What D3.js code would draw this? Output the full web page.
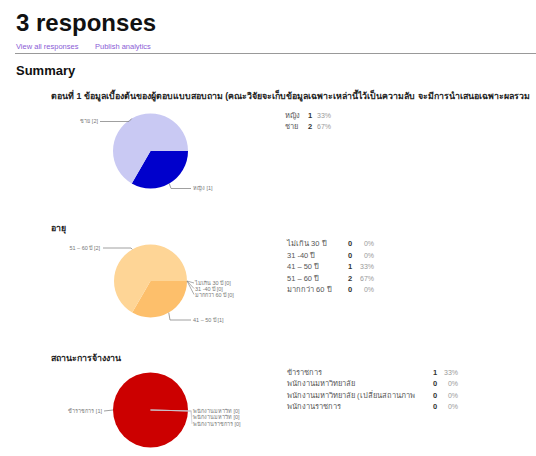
<!DOCTYPE html>
<html><head><meta charset="utf-8">
<script src="https://cdn.jsdelivr.net/npm/d3@7/dist/d3.min.js"></script>
<style>
body{margin:0;background:#fff;}
svg{font-family:"Liberation Sans",Arial,"Noto Sans",sans-serif;}
</style></head>
<body><svg id="c" width="536" height="456"></svg>
<script>
// ---------- data ----------
const pageTitle = "3 responses";
const linkTexts = ["View all responses", "Publish analytics"];
const summaryTitle = "Summary";

const q1Title = "ตอนที่ 1 ข้อมูลเบื้องต้นของผู้ตอบแบบสอบถาม (คณะวิจัยจะเก็บข้อมูลเฉพาะเหล่านี้ไว้เป็นความลับ จะมีการนำเสนอเฉพาะผลรวม";
const genderCats = ["หญิง", "ชาย"];
const genderCounts = [1, 2];
const genderPct = ["33%", "67%"];
const genderPieLabels = ["หญิง [1]", "ชาย [2]"];

const q2Title = "อายุ";
const ageCats = ["ไม่เกิน 30 ปี", "31 -40 ปี", "41 – 50 ปี", "51 – 60 ปี", "มากกว่า 60 ปี"];
const ageCounts = [0, 0, 1, 2, 0];
const agePct = ["0%", "0%", "33%", "67%", "0%"];
const agePieLabels = ["ไม่เกิน 30 ปี [0]", "31 -40 ปี [0]", "41 – 50 ปี [1]", "51 – 60 ปี [2]", "มากกว่า 60 ปี [0]"];

const q3Title = "สถานะการจ้างงาน";
const empCats = ["ข้าราชการ", "พนักงานมหาวิทยาลัย", "พนักงานมหาวิทยาลัย (เปลี่ยนสถานภาพ", "พนักงานราชการ"];
const empCounts = [1, 0, 0, 0];
const empPct = ["33%", "0%", "0%", "0%"];
const empPieLabels = ["ข้าราชการ [1]", "พนักงานมหาวิท [0]", "พนักงานมหาวิท [0]", "พนักงานราชการ [0]"];

// ---------- layout / style ----------
const svg = d3.select("#c");
svg.append("text").attr("x", 16).attr("y", 31).attr("font-size", 24).attr("font-weight", "bold").attr("fill", "#111").text(pageTitle);
svg.append("text").attr("x", 16).attr("y", 49).attr("font-size", 7.5).attr("fill", "#8a5cd6").text(linkTexts[0]);
svg.append("text").attr("x", 95).attr("y", 49).attr("font-size", 7.5).attr("fill", "#8a5cd6").text(linkTexts[1]);
svg.append("line").attr("x1", 15).attr("x2", 536).attr("y1", 53.5).attr("y2", 53.5).attr("stroke", "#999").attr("stroke-width", 1);
svg.append("text").attr("x", 16).attr("y", 75).attr("font-size", 13).attr("font-weight", "bold").attr("fill", "#111").text(summaryTitle);

const charts = [
  {title: q1Title, titleY: 99, cats: genderCats, counts: genderCounts, pct: genderPct, pieLabels: genderPieLabels,
   colors: ["#0000cc", "#c9c9f3"], cx: 150.5, cy: 151, r: 37.5,
   labels: [ {x: 193, y: 190, anchor: "start", elbow: [171, 188.5], lineTo: 191},
             {x: 98, y: 123, anchor: "end", elbow: [129, 121.5], lineTo: 100} ],
   table: {x: 285, countX: 308, pctX: 331, y0: 118, dy: 11}},
  {title: q2Title, titleY: 231, cats: ageCats, counts: ageCounts, pct: agePct, pieLabels: agePieLabels,
   colors: ["#ffd699", "#ffd699", "#fdbf6b", "#fed596", "#ffd699"], cx: 150.5, cy: 281, r: 36.5,
   zeroFrom: 1, zeroLabels: {x: 195, ys: [285, 290.5, null, null, 296.5], lineTo: 194},
   labels: [ null, null, {x: 193, y: 322, anchor: "start", elbow: [170, 320], lineTo: 191},
             {x: 100, y: 249.5, anchor: "end", elbow: [131, 248], lineTo: 103}, null ],
   table: {x: 287, countX: 348, pctX: 374, y0: 246, dy: 11.6}},
  {title: q3Title, titleY: 361, cats: empCats, counts: empCounts, pct: empPct, pieLabels: empPieLabels,
   colors: ["#cc0000", "#cc0000", "#cc0000", "#cc0000"], cx: 150.5, cy: 410, r: 37.5,
   zeroFrom: 0, zeroLabels: {x: 193, ys: [null, 413, 419, 426], lineTo: 191, hub: [191, 411]},
   labels: [ {x: 102, y: 413, anchor: "end", elbow: [110, 411], lineTo: 104}, null, null, null ],
   table: {x: 287, countX: 433, pctX: 458, y0: 375, dy: 11.3}}
];

charts.forEach(ch => {
  svg.append("text").attr("x", 51).attr("y", ch.titleY).attr("font-size", 8.8).attr("font-weight", "bold")
    .attr("fill", "#222").text(ch.title);

  const pie = d3.pie().sort(null).value(d => d).startAngle(Math.PI / 2).endAngle(Math.PI / 2 + 2 * Math.PI);
  const arcs = pie(ch.counts);
  const arc = d3.arc().innerRadius(0).outerRadius(ch.r);
  const g = svg.append("g").attr("transform", `translate(${ch.cx},${ch.cy})`);
  g.selectAll("path").data(arcs.filter(a => a.value > 0)).join("path")
    .attr("d", arc).attr("fill", a => ch.colors[a.index]).attr("stroke", "none");

  const edge = d3.arc().innerRadius(ch.r).outerRadius(ch.r);
  arcs.forEach((a, i) => {
    if (a.value > 0 && ch.labels[i]) {
      const L = ch.labels[i];
      const [ex, ey] = edge.centroid(a);
      const pts = ch.counts.filter(v => v > 0).length === 1
        ? [[ch.cx + ex, ch.cy + ey], [L.lineTo, L.elbow[1]]]
        : [[ch.cx + ex, ch.cy + ey], L.elbow, [L.lineTo, L.elbow[1]]];
      svg.append("path").attr("d", d3.line()(pts)).attr("fill", "none").attr("stroke", "#888").attr("stroke-width", 0.8);
      svg.append("text").attr("x", L.x).attr("y", L.y).attr("text-anchor", L.anchor)
        .attr("font-size", 5.5).attr("fill", "#777").text(ch.pieLabels[i]);
    }
  });
  if (ch.zeroLabels) {
    const Z = ch.zeroLabels;
    arcs.forEach((a, i) => {
      if (a.value === 0) {
        const rr = ch.r * ch.zeroFrom;
        const sx = ch.cx + Math.sin(a.startAngle) * rr, sy = ch.cy - Math.cos(a.startAngle) * rr;
        const pts = Z.hub ? [[sx, sy], Z.hub, [Z.lineTo + 1, Z.ys[i] - 2]] : [[sx, sy], [Z.lineTo, Z.ys[i] - 2]];
        svg.append("path").attr("d", d3.line()(pts)).attr("fill", "none")
          .attr("stroke", Z.hub ? "#c8c8d0" : "#888").attr("stroke-width", 0.7);
        svg.append("text").attr("x", Z.x).attr("y", Z.ys[i]).attr("font-size", 5.5).attr("fill", "#777").text(ch.pieLabels[i]);
      }
    });
  }

  const T = ch.table;
  ch.cats.forEach((c, i) => {
    const y = T.y0 + i * T.dy;
    svg.append("text").attr("x", T.x).attr("y", y).attr("font-size", 7.5).attr("fill", "#555").text(c);
    svg.append("text").attr("x", T.countX).attr("y", y).attr("font-size", 7.5).attr("font-weight", "bold").attr("fill", "#333").text(ch.counts[i]);
    svg.append("text").attr("x", T.pctX).attr("y", y).attr("text-anchor", "end").attr("font-size", 7).attr("fill", "#999").text(ch.pct[i]);
  });
});
</script></body></html>
